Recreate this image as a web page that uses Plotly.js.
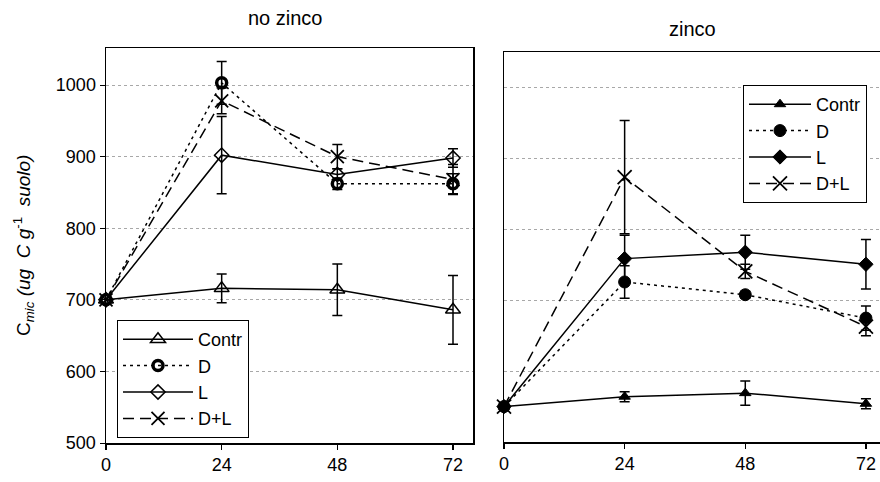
<!DOCTYPE html>
<html>
<head>
<meta charset="utf-8">
<script src="https://cdn.plot.ly/plotly-3.0.1.min.js"></script>
<style>html,body{margin:0;padding:0;background:#fff;}#chart{width:880px;height:482px;}</style>
</head>
<body>
<div id="chart"></div>
<script>
// ---- data ----
const hours = [0, 24, 48, 72];
const tickLabels = ['0', '24', '48', '72'];
const seriesNames = ['Contr', 'D', 'L', 'D+L'];

// no zinco
const contrNoZn = [700, 716, 714, 686];
const contrNoZnErr = [0, 20, 36, 48];
const dNoZn = [700, 1003, 862, 862];
const dNoZnErr = [0, 30, 8, 14];
const lNoZn = [700, 902, 875, 898];
const lNoZnErr = [0, 54, 8, 13];
const dlNoZn = [700, 978, 900, 868];
const dlNoZnErr = [0, 18, 17, 21];

// zinco
const contrZn = [550, 564, 569, 554];
const contrZnErr = [0, 7, 17, 7];
const dZn = [550, 726, 708, 675];
const dZnErr = [0, 23, 5, 17];
const lZn = [550, 759, 768, 751];
const lZnErr = [0, 33, 24, 35];
const dlZn = [550, 874, 741, 663];
const dlZnErr = [0, 80, 10, 13];

const yTicks = [500, 600, 700, 800, 900, 1000];

// ---- styles ----
const FONT = 'Liberation Sans, Arial, Helvetica, sans-serif';
function err(arr) {
  return {type: 'data', array: arr, visible: true, color: '#000', thickness: 1.5, width: 5};
}
function tr(name, y, e, xa, ya, dash, sym, size, lw, legend) {
  return {
    type: 'scatter', mode: 'lines+markers', name: name, x: hours, y: y,
    xaxis: xa, yaxis: ya, legend: legend,
    line: {color: '#000', width: 1.5, dash: dash},
    marker: {symbol: sym, size: size, color: '#000', line: {color: '#000', width: lw}},
    error_y: err(e), cliponaxis: false
  };
}
const DOT = '3px,4px';
const DASH = '11px,6px';

const data = [
  tr(seriesNames[0], contrNoZn, contrNoZnErr, 'x', 'y', 'solid', 'triangle-up-open', 13, 1.5, 'legend'),
  tr(seriesNames[1], dNoZn, dNoZnErr, 'x', 'y', DOT, 'circle-open', 10, 3.5, 'legend'),
  tr(seriesNames[2], lNoZn, lNoZnErr, 'x', 'y', 'solid', 'diamond-open', 11, 1.5, 'legend'),
  tr(seriesNames[3], dlNoZn, dlNoZnErr, 'x', 'y', DASH, 'x-thin-open', 13, 1.8, 'legend'),
  tr(seriesNames[0], contrZn, contrZnErr, 'x2', 'y2', 'solid', 'triangle-up', 10, 1, 'legend2'),
  tr(seriesNames[1], dZn, dZnErr, 'x2', 'y2', DOT, 'circle', 12, 1, 'legend2'),
  tr(seriesNames[2], lZn, lZnErr, 'x2', 'y2', 'solid', 'diamond', 11, 1, 'legend2'),
  tr(seriesNames[3], dlZn, dlZnErr, 'x2', 'y2', DASH, 'x-thin-open', 14, 1.8, 'legend2')
];

const baseX = {
  tickvals: hours, ticktext: tickLabels, ticks: 'outside', ticklen: 5, tickwidth: 1.2,
  tickcolor: '#000', showline: true, linecolor: '#000', linewidth: 1.5,
  showgrid: false, zeroline: false, tickfont: {family: FONT, size: 18, color: '#000'}
};
const baseY = {
  tickvals: yTicks, showline: true, linecolor: '#000', linewidth: 1.5,
  showgrid: true, gridcolor: '#a8a8a8', gridwidth: 1, griddash: 'dot', zeroline: false,
  tickfont: {family: FONT, size: 18, color: '#000'}
};

const legendBase = {
  bgcolor: '#fff', bordercolor: '#000', borderwidth: 1,
  font: {family: FONT, size: 18, color: '#000'},
  traceorder: 'normal', tracegroupgap: 0, xanchor: 'left', yanchor: 'top'
};

const layout = {
  width: 880, height: 482,
  margin: {l: 0, r: 0, t: 0, b: 0},
  paper_bgcolor: '#fff', plot_bgcolor: '#fff',
  font: {family: FONT, color: '#000'},
  showlegend: true,
  xaxis: Object.assign({}, baseX, {domain: [106 / 880, 473 / 880], range: [0, 76.15], anchor: 'y', mirror: true}),
  yaxis: Object.assign({}, baseY, {domain: [1 - 443 / 482, 1 - 48 / 482], range: [500, 1051.7], anchor: 'x',
    mirror: true, ticks: 'outside', ticklen: 5, tickcolor: '#000'}),
  xaxis2: Object.assign({}, baseX, {domain: [504 / 880, 1], range: [0, 74.8], anchor: 'y2', mirror: true}),
  yaxis2: Object.assign({}, baseY, {domain: [1 - 442 / 482, 1 - 52 / 482], range: [500, 1050.8], anchor: 'x2',
    showticklabels: false, ticks: '', mirror: false}),
  legend: Object.assign({}, legendBase, {x: 117 / 880, y: 1 - 320 / 482, itemwidth: 70}),
  legend2: Object.assign({}, legendBase, {x: 743 / 880, y: 1 - 85 / 482, itemwidth: 62}),
  annotations: [
    {text: 'no zinco', xref: 'paper', yref: 'paper', x: 285 / 880, y: 1 - 18 / 482,
     xanchor: 'center', yanchor: 'middle', showarrow: false, font: {family: FONT, size: 20, color: '#000'}},
    {text: 'zinco', xref: 'paper', yref: 'paper', x: 692 / 880, y: 1 - 29 / 482,
     xanchor: 'center', yanchor: 'middle', showarrow: false, font: {family: FONT, size: 20, color: '#000'}},
    {text: 'C<sub><i>mic</i></sub><i> (ug  C g</i><sup>-1</sup><i>  suolo)</i>', xref: 'paper', yref: 'paper',
     x: 24 / 880, y: 1 - 246 / 482, textangle: -90, xanchor: 'center', yanchor: 'middle',
     showarrow: false, font: {family: FONT, size: 19, color: '#000'}}
  ]
};

Plotly.newPlot('chart', data, layout, {staticPlot: true, displayModeBar: false});
</script>
</body>
</html>
